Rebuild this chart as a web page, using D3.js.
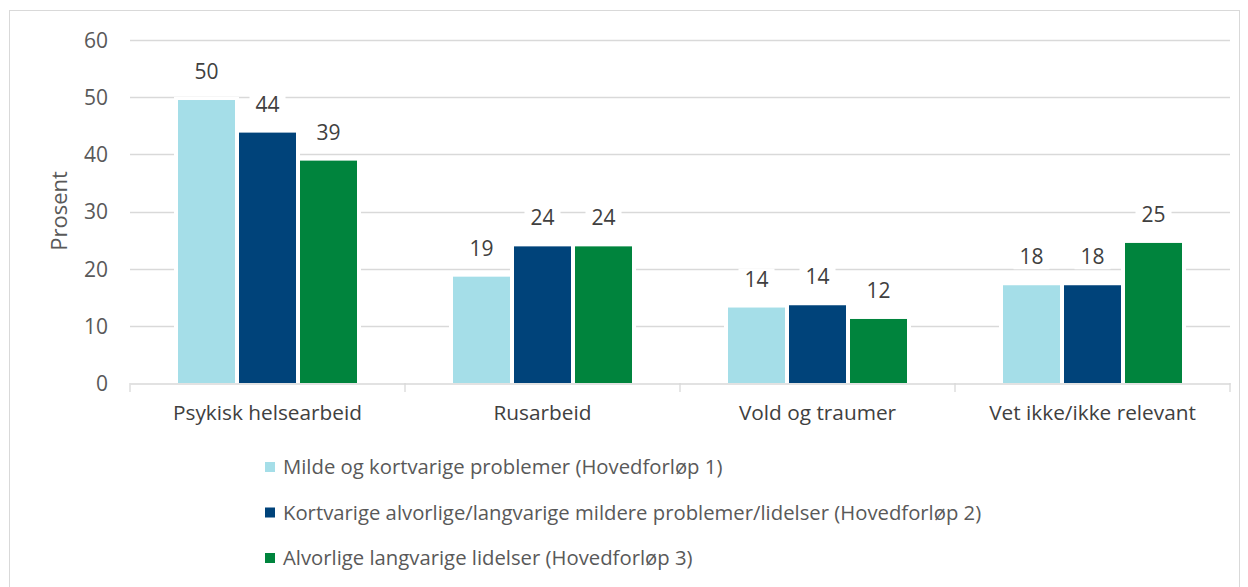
<!DOCTYPE html>
<html><head><meta charset="utf-8">
<script src="https://cdn.jsdelivr.net/npm/d3@7"></script>
<style>body{margin:0;background:#fff}svg{display:block;font-family:"Open Sans",sans-serif}</style>
</head><body><svg id="c" width="1248" height="587"></svg>
<script>
const categories = ["Psykisk helsearbeid","Rusarbeid","Vold og traumer","Vet ikke/ikke relevant"];
const seriesNames = ["Milde og kortvarige problemer (Hovedforløp 1)","Kortvarige alvorlige/langvarige mildere problemer/lidelser (Hovedforløp 2)","Alvorlige langvarige lidelser (Hovedforløp 3)"];
const seriesColors = ["#A5DEE8","#00437A","#00843D"];
const values1 = [49.5, 18.6, 13.2, 17.1];
const values2 = [43.8, 23.9, 13.6, 17.1];
const values3 = [38.9, 23.9, 11.2, 24.5];
const labels1 = ["50","19","14","18"];
const labels2 = ["44","24","14","18"];
const labels3 = ["39","24","12","25"];
const yTicks = [0,10,20,30,40,50,60];

const values = [values1, values2, values3];
const labels = [labels1, labels2, labels3];
const svg = d3.select("#c");
svg.append("rect").attr("x",9.5).attr("y",10.5).attr("width",1230).attr("height",590).attr("fill","none").attr("stroke","#d9d9d9");

const L=130,R=1230,T=40,B=383;
const y = d3.scaleLinear().domain([0,60]).range([B,T]);
const x = d3.scaleBand().domain(categories).range([L,R]).padding(0);
const bw = x.bandwidth();
const xs = d3.scaleBand().domain(d3.range(3)).range([bw/2-91.5, bw/2+91.5]).paddingInner(4/61).paddingOuter(2/61);

// gridlines
svg.append("g").selectAll("line").data(yTicks.filter(d=>d>0)).join("line")
  .attr("x1",L).attr("x2",R).attr("y1",d=>Math.round(y(d))+0.5).attr("y2",d=>Math.round(y(d))+0.5)
  .attr("stroke","#d9d9d9").attr("stroke-width",1.3);

// y axis labels
const ya = svg.append("g").attr("transform",`translate(${L-22},0)`).call(d3.axisLeft(y).tickValues(yTicks).tickSize(0).tickPadding(0));
ya.select(".domain").remove();
ya.selectAll("text").attr("font-family","Open Sans").attr("font-size",21).attr("fill","#595959").attr("dy","0.35em");

// x axis
const xa = svg.append("g").attr("transform",`translate(0,${B+0.5})`).call(d3.axisBottom(x).tickSize(0).tickPadding(22));
xa.select(".domain").attr("stroke","#d9d9d9").attr("stroke-width",1.3);
xa.selectAll("text").attr("font-family","Open Sans").attr("font-size",20.8).attr("fill","#404040");
svg.append("g").selectAll("line").data(d3.range(categories.length+1)).join("line")
  .attr("x1",i=>L+i*bw).attr("x2",i=>L+i*bw).attr("y1",B).attr("y2",B+9)
  .attr("stroke","#d9d9d9").attr("stroke-width",1.3);

// bars
const data = [];
categories.forEach((c,ci)=>{ for(let s=0;s<3;s++) data.push({c,s,v:values[s][ci],l:labels[s][ci]}); });
const bg = svg.append("g");
bg.selectAll("rect.halo").data(data).join("rect").attr("class","halo")
  .attr("x",d=>x(d.c)+xs(d.s)-4).attr("width",xs.bandwidth()+8)
  .attr("y",d=>y(d.v)-3).attr("height",d=>B-y(d.v)+3).attr("fill","#fff");
bg.selectAll("rect.bar").data(data).join("rect").attr("class","bar")
  .attr("x",d=>x(d.c)+xs(d.s)).attr("width",xs.bandwidth())
  .attr("y",d=>y(d.v)).attr("height",d=>B-y(d.v))
  .attr("fill",d=>seriesColors[d.s]);

// data labels
const lg = svg.append("g");
data.forEach(d=>{
  const cx = x(d.c)+xs(d.s)+xs.bandwidth()/2;
  const by = y(d.v)-21;
  lg.append("rect").attr("x",cx-18).attr("y",by-18).attr("width",36).attr("height",23).attr("fill","#fff");
  lg.append("text").attr("x",cx).attr("y",by).attr("text-anchor","middle")
    .attr("font-size",21).attr("fill","#404040").text(d.l);
});

// y title
svg.append("text").attr("transform","translate(67,211) rotate(-90)").attr("text-anchor","middle")
  .attr("font-size",22).attr("fill","#595959").text("Prosent");

// legend
const leg = svg.append("g").selectAll("g").data(seriesNames).join("g")
  .attr("transform",(d,i)=>`translate(265,${467+i*45.5})`);
leg.append("rect").attr("x",0).attr("y",-5).attr("width",10).attr("height",10).attr("fill",(d,i)=>seriesColors[i]);
leg.append("text").attr("x",18).attr("y",0).attr("dy","0.35em").attr("font-size",20.3).attr("fill","#595959").text(d=>d);
</script></body></html>
